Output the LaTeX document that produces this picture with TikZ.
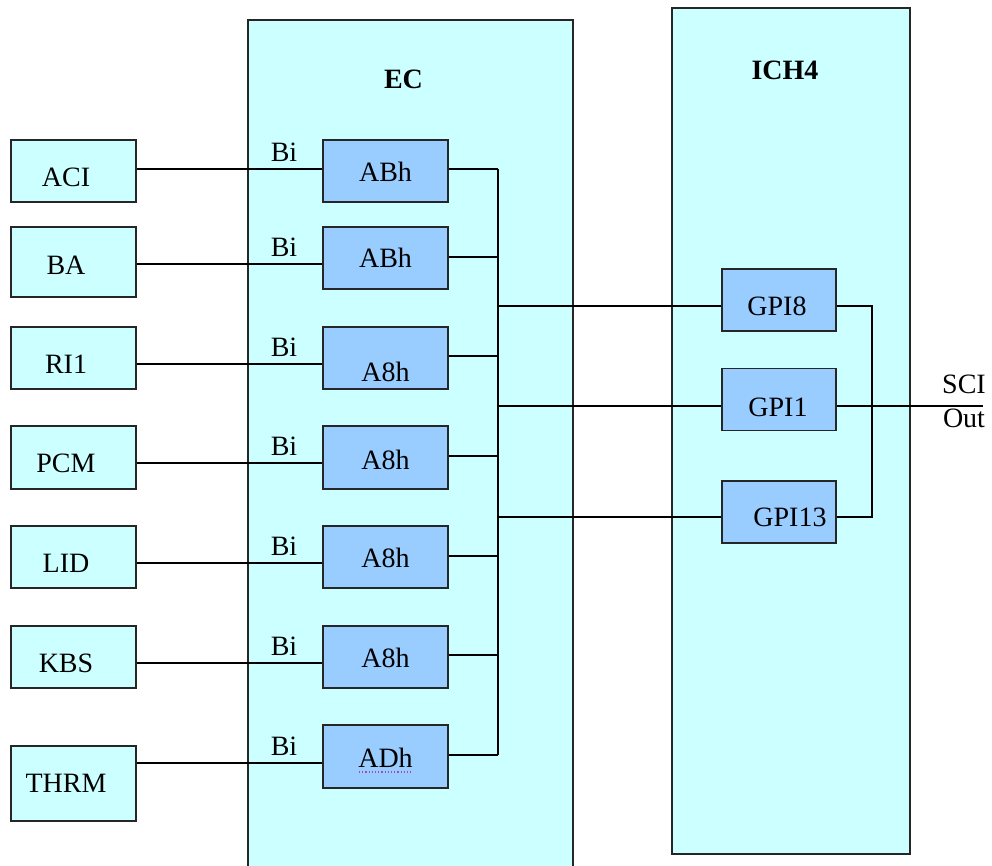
\documentclass[tikz,border=0pt]{standalone}
\usepackage{fontspec}
\setmainfont{Liberation Serif}
\definecolor{chipfill}{RGB}{204,255,255}
\definecolor{regfill}{RGB}{153,204,255}
\definecolor{spellmark}{RGB}{170,70,190}
\begin{document}
\begin{tikzpicture}[x=1pt, y=-1pt,
    font=\fontsize{28}{32}\selectfont,
    chip/.style={draw=black!85, line width=1.6pt, fill=chipfill, inner sep=0pt},
    srcbox/.style={chip, minimum width=125pt},
    regbox/.style={draw=black!85, line width=1.6pt, fill=regfill, inner sep=0pt, minimum width=125pt},
    gpibox/.style={regbox, minimum width=114pt, minimum height=62pt},
    wire/.style={line width=1.6pt},
    bi/.style={pos=0.794, anchor=base, yshift=7.5pt, inner sep=0pt}]
    \useasboundingbox (0,0) rectangle (992,865);

    % The two chips
    \node (ec) [chip, minimum width=325pt, minimum height=860pt] at (410.5,450) {};
    \node (ectitle) at (403.5,79) {\bfseries EC};
    \node (ich) [chip, minimum width=238pt, minimum height=846pt] at (791,431) {};
    \node (ichtitle) at (785,70) {\bfseries ICH4};

    % Bus lines
    \coordinate (bus) at (498,0);
    \coordinate (rbus) at (872,0);

    % Inputs, EC registers and their wires
    \foreach \i/\src/\st/\sb/\sy/\reg/\rt/\rb/\ry/\yin/\yout in {
        1/ACI/140/202/177/ABh/140/202/172/169/169,
        2/BA/227/297/265/ABh/227/289/258/264/257,
        3/RI1/327/389/364/A8h/327/389/372/364/356,
        4/PCM/426/489/463/A8h/426/489/460/463/456,
        5/LID/526/588/563/A8h/526/588/558/563/556,
        6/KBS/626/688/663/A8h/626/688/658/663/655,
        7/THRM/746/821/783/ADh/725/788/758/763/755}{
        \pgfmathsetmacro\srch{\sb-\st}
        \pgfmathsetmacro\regh{\rb-\rt}
        \node (src\i) [srcbox, minimum height=\srch pt] at (73.5,{(\st+\sb)/2}) {};
        \node (srct\i) at (66,\sy) {\src};
        \node (reg\i) [regbox, minimum height=\regh pt] at (385.5,{(\rt+\rb)/2}) {};
        \node (regt\i) at (385.5,\ry) {\reg};
        \coordinate (in\i) at (0,\yin);
        \coordinate (out\i) at (498,\yout);
        \draw[wire] (src\i.east |- in\i) -- node[bi] {Bi} (reg\i.west |- in\i);
        \draw[wire] (reg\i.east |- out\i) -- (out\i);
    }
    \draw[wire] (out1) -- (out7);

    % spell check mark under ADh
    \draw[spellmark, dotted, line width=1.2pt] ([xshift=-26.5pt, yshift=-15.5pt]reg7.center) -- ++(52,0);

    % ICH4 inputs
    \coordinate (tap8) at (498,306);
    \coordinate (tap1) at (498,406);
    \coordinate (tap13) at (498,517);
    \node (gpi8) [gpibox] at (779,300) {};
    \node (gpi8t) at (777,306.5) {GPI8};
    \node (gpi1) [gpibox] at (779,399.5) {};
    \node (gpi1t) at (778,407) {GPI1};
    \node (gpi13) [gpibox] at (779,512) {};
    \node (gpi13t) at (790,517.5) {GPI13};
    \draw[wire] (tap8) -- (gpi8.west |- tap8);
    \draw[wire] (tap1) -- (gpi1.west |- tap1);
    \draw[wire] (tap13) -- (gpi13.west |- tap13);
    \draw[wire] (gpi8.east |- tap8) -| (rbus |- tap13) -- (gpi13.east |- tap13);

    % SCI output
    \coordinate (sciend) at (983,406);
    \draw[wire] (gpi1.east |- tap1) -- (sciend);
    \node (scitxt) [anchor=base] at (964,393) {SCI};
    \node (outtxt) [anchor=base] at (964,427) {Out};
\end{tikzpicture}
\end{document}
